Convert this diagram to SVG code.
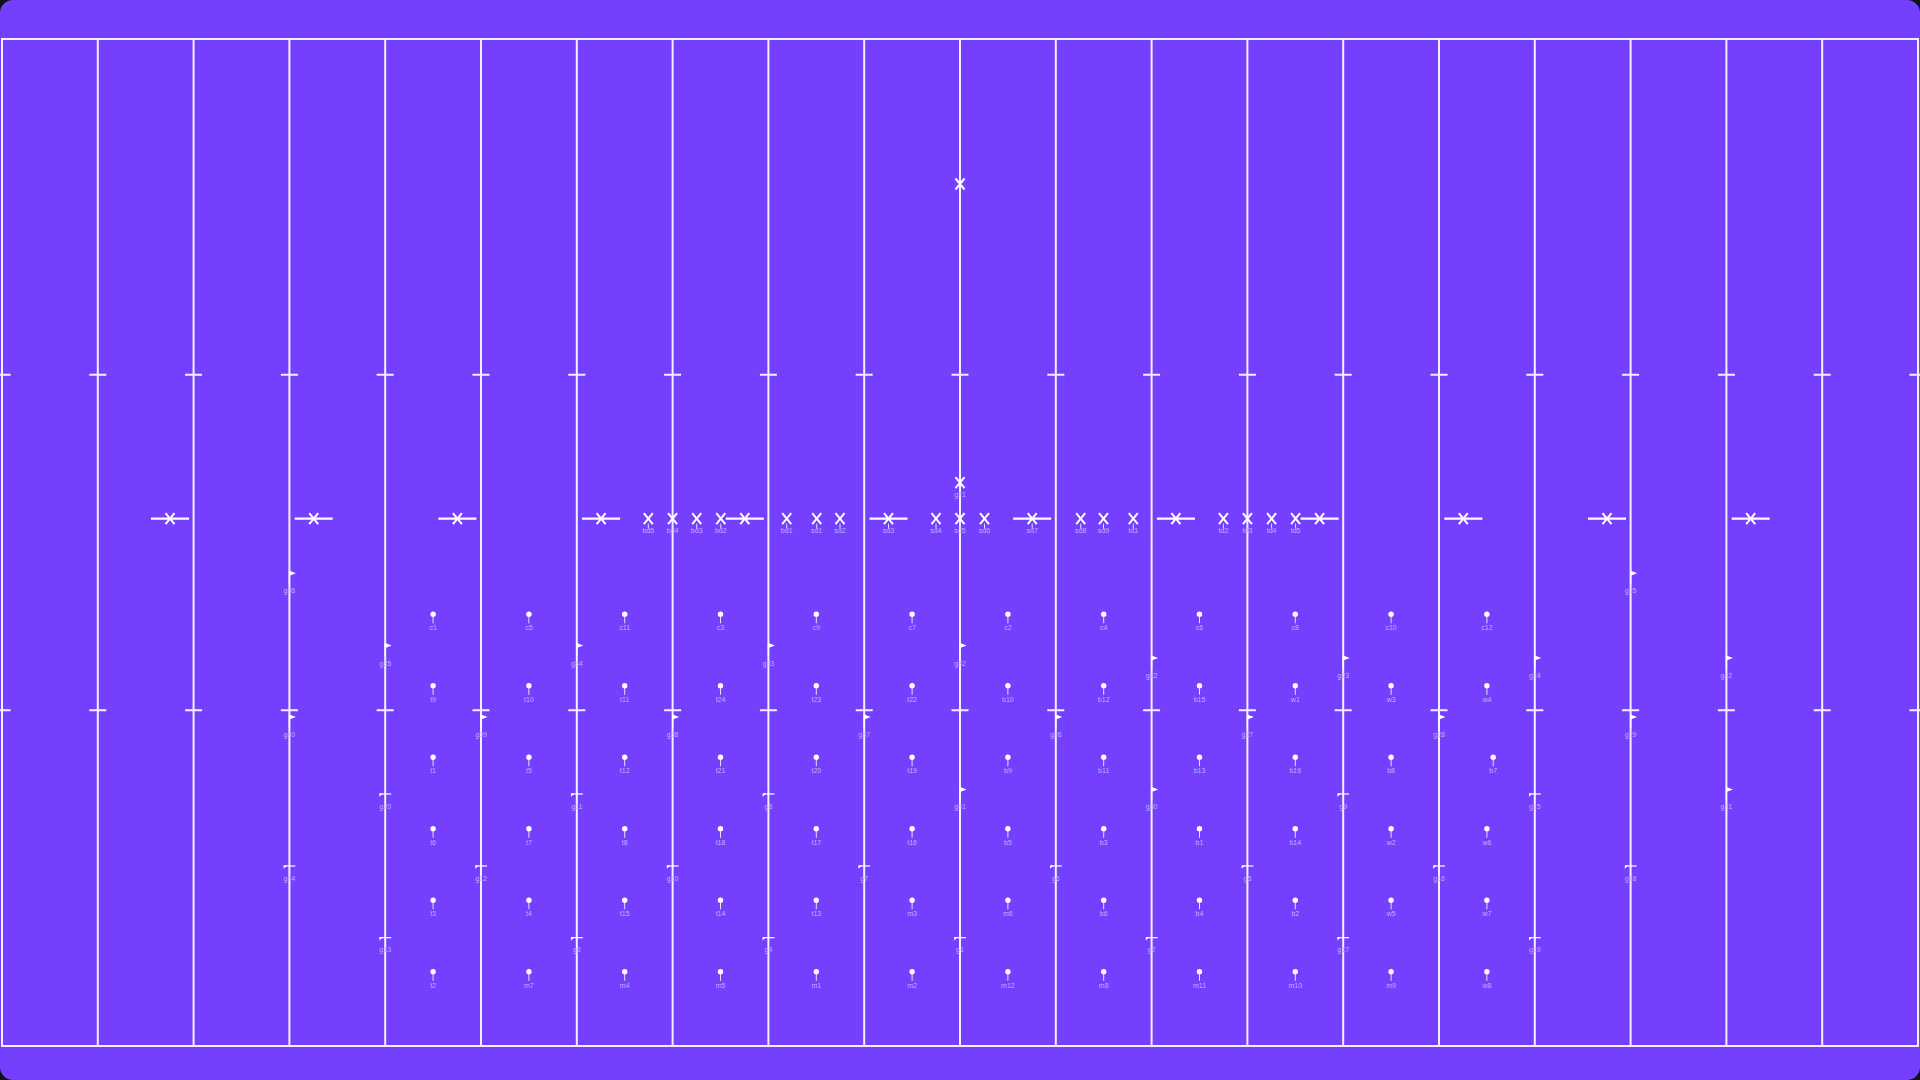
<svg xmlns="http://www.w3.org/2000/svg" width="1920" height="1080" viewBox="0 0 1920 1080">
<style>
.bg{fill:#7440fd}
.fl{stroke:#f4f0ff;stroke-width:2;fill:none}
.tk{stroke:#f4f0ff;stroke-width:2}
.xm{stroke:#ffffff;stroke-width:2;fill:none}
.bar{stroke:#ffffff;stroke-width:2.2}
.ld{stroke:#e6dcff;stroke-width:1}
.pole{stroke:#ffffff;stroke-width:1.2;fill:none}
.pen{fill:#ffffff}
circle{fill:#ffffff}
text{font-family:"Liberation Sans",Arial,sans-serif;font-size:7px;fill:#c4aefe;text-anchor:middle}
</style>
<rect width="1920" height="1080" fill="#121212"/>
<rect class="bg" width="1920" height="1080" rx="13"/>
<g id="field">
<rect class="fl" x="2" y="39" width="1916" height="1007"/>
<path class="fl" d="M97.8 39V1046M193.6 39V1046M289.4 39V1046M385.2 39V1046M481 39V1046M576.8 39V1046M672.6 39V1046M768.4 39V1046M864.2 39V1046M960 39V1046M1055.8 39V1046M1151.6 39V1046M1247.4 39V1046M1343.2 39V1046M1439 39V1046M1534.8 39V1046M1630.6 39V1046M1726.4 39V1046M1822.2 39V1046"/>
<path class="tk" d="M-6.5 374.7H10.5M89.3 374.7H106.3M185.1 374.7H202.1M280.9 374.7H297.9M376.7 374.7H393.7M472.5 374.7H489.5M568.3 374.7H585.3M664.1 374.7H681.1M759.9 374.7H776.9M855.7 374.7H872.7M951.5 374.7H968.5M1047.3 374.7H1064.3M1143.1 374.7H1160.1M1238.9 374.7H1255.9M1334.7 374.7H1351.7M1430.5 374.7H1447.5M1526.3 374.7H1543.3M1622.1 374.7H1639.1M1717.9 374.7H1734.9M1813.7 374.7H1830.7M1909.5 374.7H1926.5"/>
<path class="tk" d="M-6.5 710.3H10.5M89.3 710.3H106.3M185.1 710.3H202.1M280.9 710.3H297.9M376.7 710.3H393.7M472.5 710.3H489.5M568.3 710.3H585.3M664.1 710.3H681.1M759.9 710.3H776.9M855.7 710.3H872.7M951.5 710.3H968.5M1047.3 710.3H1064.3M1143.1 710.3H1160.1M1238.9 710.3H1255.9M1334.7 710.3H1351.7M1430.5 710.3H1447.5M1526.3 710.3H1543.3M1622.1 710.3H1639.1M1717.9 710.3H1734.9M1813.7 710.3H1830.7M1909.5 710.3H1926.5"/>
</g>
<g id="connectors"></g>
<!-- big crosses with bars -->
<g id="cross-1" transform="translate(170,518.7)"><path class="bar" d="M-19 0H19"/><path class="xm" d="M-4.5-5.5L4.5 5.5M4.5-5.5L-4.5 5.5"/></g>
<g id="cross-2" transform="translate(313.7,518.7)"><path class="bar" d="M-19 0H19"/><path class="xm" d="M-4.5-5.5L4.5 5.5M4.5-5.5L-4.5 5.5"/></g>
<g id="cross-3" transform="translate(457.4,518.7)"><path class="bar" d="M-19 0H19"/><path class="xm" d="M-4.5-5.5L4.5 5.5M4.5-5.5L-4.5 5.5"/></g>
<g id="cross-4" transform="translate(601.1,518.7)"><path class="bar" d="M-19 0H19"/><path class="xm" d="M-4.5-5.5L4.5 5.5M4.5-5.5L-4.5 5.5"/></g>
<g id="cross-5" transform="translate(744.8,518.7)"><path class="bar" d="M-19 0H19"/><path class="xm" d="M-4.5-5.5L4.5 5.5M4.5-5.5L-4.5 5.5"/></g>
<g id="sd3" transform="translate(888.5,518.7)"><path class="bar" d="M-19 0H19"/><path class="xm" d="M-4.5-5.5L4.5 5.5M4.5-5.5L-4.5 5.5"/><path class="ld" d="M0 5v5"/><text y="14.5">sd3</text></g>
<g id="sd7" transform="translate(1032.2,518.7)"><path class="bar" d="M-19 0H19"/><path class="xm" d="M-4.5-5.5L4.5 5.5M4.5-5.5L-4.5 5.5"/><path class="ld" d="M0 5v5"/><text y="14.5">sd7</text></g>
<g id="cross-6" transform="translate(1175.9,518.7)"><path class="bar" d="M-19 0H19"/><path class="xm" d="M-4.5-5.5L4.5 5.5M4.5-5.5L-4.5 5.5"/></g>
<g id="cross-7" transform="translate(1319.6,518.7)"><path class="bar" d="M-19 0H19"/><path class="xm" d="M-4.5-5.5L4.5 5.5M4.5-5.5L-4.5 5.5"/></g>
<g id="cross-8" transform="translate(1463.3,518.7)"><path class="bar" d="M-19 0H19"/><path class="xm" d="M-4.5-5.5L4.5 5.5M4.5-5.5L-4.5 5.5"/></g>
<g id="cross-9" transform="translate(1607,518.7)"><path class="bar" d="M-19 0H19"/><path class="xm" d="M-4.5-5.5L4.5 5.5M4.5-5.5L-4.5 5.5"/></g>
<g id="cross-10" transform="translate(1750.7,518.7)"><path class="bar" d="M-19 0H19"/><path class="xm" d="M-4.5-5.5L4.5 5.5M4.5-5.5L-4.5 5.5"/></g>
<!-- small crosses -->
<g id="cross-top" transform="translate(960,184)"><path class="xm" d="M-4.5-5.5L4.5 5.5M4.5-5.5L-4.5 5.5"/></g>
<g id="g21" transform="translate(960,482.7)"><path class="xm" d="M-4.5-5.5L4.5 5.5M4.5-5.5L-4.5 5.5"/><text y="14.5">g21</text></g>
<g id="bd5" transform="translate(648.3,518.7)"><path class="xm" d="M-4.5-5.5L4.5 5.5M4.5-5.5L-4.5 5.5"/><path class="ld" d="M0 5v5"/><text y="14.5">bd5</text></g>
<g id="bd4" transform="translate(672.6,518.7)"><path class="xm" d="M-4.5-5.5L4.5 5.5M4.5-5.5L-4.5 5.5"/><path class="ld" d="M0 5v5"/><text y="14.5">bd4</text></g>
<g id="bd3" transform="translate(696.7,518.7)"><path class="xm" d="M-4.5-5.5L4.5 5.5M4.5-5.5L-4.5 5.5"/><path class="ld" d="M0 5v5"/><text y="14.5">bd3</text></g>
<g id="bd2" transform="translate(720.8,518.7)"><path class="xm" d="M-4.5-5.5L4.5 5.5M4.5-5.5L-4.5 5.5"/><path class="ld" d="M0 5v5"/><text y="14.5">bd2</text></g>
<g id="bd1" transform="translate(786.7,518.7)"><path class="xm" d="M-4.5-5.5L4.5 5.5M4.5-5.5L-4.5 5.5"/><path class="ld" d="M0 5v5"/><text y="14.5">bd1</text></g>
<g id="sd1" transform="translate(816.7,518.7)"><path class="xm" d="M-4.5-5.5L4.5 5.5M4.5-5.5L-4.5 5.5"/><path class="ld" d="M0 5v5"/><text y="14.5">sd1</text></g>
<g id="sd2" transform="translate(840,518.7)"><path class="xm" d="M-4.5-5.5L4.5 5.5M4.5-5.5L-4.5 5.5"/><path class="ld" d="M0 5v5"/><text y="14.5">sd2</text></g>
<g id="sd4" transform="translate(936,518.7)"><path class="xm" d="M-4.5-5.5L4.5 5.5M4.5-5.5L-4.5 5.5"/><path class="ld" d="M0 5v5"/><text y="14.5">sd4</text></g>
<g id="sd5" transform="translate(960,518.7)"><path class="xm" d="M-4.5-5.5L4.5 5.5M4.5-5.5L-4.5 5.5"/><path class="ld" d="M0 5v5"/><text y="14.5">sd5</text></g>
<g id="sd6" transform="translate(984.5,518.7)"><path class="xm" d="M-4.5-5.5L4.5 5.5M4.5-5.5L-4.5 5.5"/><path class="ld" d="M0 5v5"/><text y="14.5">sd6</text></g>
<g id="sd8" transform="translate(1080.7,518.7)"><path class="xm" d="M-4.5-5.5L4.5 5.5M4.5-5.5L-4.5 5.5"/><path class="ld" d="M0 5v5"/><text y="14.5">sd8</text></g>
<g id="sd9" transform="translate(1103.5,518.7)"><path class="xm" d="M-4.5-5.5L4.5 5.5M4.5-5.5L-4.5 5.5"/><path class="ld" d="M0 5v5"/><text y="14.5">sd9</text></g>
<g id="td1" transform="translate(1133.3,518.7)"><path class="xm" d="M-4.5-5.5L4.5 5.5M4.5-5.5L-4.5 5.5"/><path class="ld" d="M0 5v5"/><text y="14.5">td1</text></g>
<g id="td2" transform="translate(1223.4,518.7)"><path class="xm" d="M-4.5-5.5L4.5 5.5M4.5-5.5L-4.5 5.5"/><path class="ld" d="M0 5v5"/><text y="14.5">td2</text></g>
<g id="td3" transform="translate(1247.4,518.7)"><path class="xm" d="M-4.5-5.5L4.5 5.5M4.5-5.5L-4.5 5.5"/><path class="ld" d="M0 5v5"/><text y="14.5">td3</text></g>
<g id="td4" transform="translate(1271.6,518.7)"><path class="xm" d="M-4.5-5.5L4.5 5.5M4.5-5.5L-4.5 5.5"/><path class="ld" d="M0 5v5"/><text y="14.5">td4</text></g>
<g id="td5" transform="translate(1295.6,518.7)"><path class="xm" d="M-4.5-5.5L4.5 5.5M4.5-5.5L-4.5 5.5"/><path class="ld" d="M0 5v5"/><text y="14.5">td5</text></g>
<!-- upright flags -->
<g id="g36" transform="translate(289.4,570.7)"><path class="pole" d="M0 0v13"/><path class="pen" d="M0 0L6.5 2.6L0 5Z"/><text y="22.5">g36</text></g>
<g id="g25" transform="translate(1630.6,570.7)"><path class="pole" d="M0 0v13"/><path class="pen" d="M0 0L6.5 2.6L0 5Z"/><text y="22.5">g25</text></g>
<g id="g35" transform="translate(385.2,643)"><path class="pole" d="M0 0v13"/><path class="pen" d="M0 0L6.5 2.6L0 5Z"/><text y="22.5">g35</text></g>
<g id="g34" transform="translate(576.8,643)"><path class="pole" d="M0 0v13"/><path class="pen" d="M0 0L6.5 2.6L0 5Z"/><text y="22.5">g34</text></g>
<g id="g33" transform="translate(768.4,643)"><path class="pole" d="M0 0v13"/><path class="pen" d="M0 0L6.5 2.6L0 5Z"/><text y="22.5">g33</text></g>
<g id="g32" transform="translate(960,643)"><path class="pole" d="M0 0v13"/><path class="pen" d="M0 0L6.5 2.6L0 5Z"/><text y="22.5">g32</text></g>
<g id="g22" transform="translate(1151.6,655.5)"><path class="pole" d="M0 0v13"/><path class="pen" d="M0 0L6.5 2.6L0 5Z"/><text y="22.5">g22</text></g>
<g id="g23" transform="translate(1343.2,655.5)"><path class="pole" d="M0 0v13"/><path class="pen" d="M0 0L6.5 2.6L0 5Z"/><text y="22.5">g23</text></g>
<g id="g24" transform="translate(1534.8,655.5)"><path class="pole" d="M0 0v13"/><path class="pen" d="M0 0L6.5 2.6L0 5Z"/><text y="22.5">g24</text></g>
<g id="g42" transform="translate(1726.4,655.5)"><path class="pole" d="M0 0v13"/><path class="pen" d="M0 0L6.5 2.6L0 5Z"/><text y="22.5">g42</text></g>
<g id="g40" transform="translate(289.4,714.5)"><path class="pole" d="M0 0v13"/><path class="pen" d="M0 0L6.5 2.6L0 5Z"/><text y="22.5">g40</text></g>
<g id="g39" transform="translate(481,714.5)"><path class="pole" d="M0 0v13"/><path class="pen" d="M0 0L6.5 2.6L0 5Z"/><text y="22.5">g39</text></g>
<g id="g38" transform="translate(672.6,714.5)"><path class="pole" d="M0 0v13"/><path class="pen" d="M0 0L6.5 2.6L0 5Z"/><text y="22.5">g38</text></g>
<g id="g37" transform="translate(864.2,714.5)"><path class="pole" d="M0 0v13"/><path class="pen" d="M0 0L6.5 2.6L0 5Z"/><text y="22.5">g37</text></g>
<g id="g26" transform="translate(1055.8,714.5)"><path class="pole" d="M0 0v13"/><path class="pen" d="M0 0L6.5 2.6L0 5Z"/><text y="22.5">g26</text></g>
<g id="g27" transform="translate(1247.4,714.5)"><path class="pole" d="M0 0v13"/><path class="pen" d="M0 0L6.5 2.6L0 5Z"/><text y="22.5">g27</text></g>
<g id="g28" transform="translate(1439,714.5)"><path class="pole" d="M0 0v13"/><path class="pen" d="M0 0L6.5 2.6L0 5Z"/><text y="22.5">g28</text></g>
<g id="g29" transform="translate(1630.6,714.5)"><path class="pole" d="M0 0v13"/><path class="pen" d="M0 0L6.5 2.6L0 5Z"/><text y="22.5">g29</text></g>
<g id="g31" transform="translate(960,787)"><path class="pole" d="M0 0v13"/><path class="pen" d="M0 0L6.5 2.6L0 5Z"/><text y="22">g31</text></g>
<g id="g30" transform="translate(1151.6,787)"><path class="pole" d="M0 0v13"/><path class="pen" d="M0 0L6.5 2.6L0 5Z"/><text y="22">g30</text></g>
<g id="g41" transform="translate(1726.4,787)"><path class="pole" d="M0 0v13"/><path class="pen" d="M0 0L6.5 2.6L0 5Z"/><text y="22">g41</text></g>
<!-- fallen flags -->
<g id="g20" transform="translate(385.2,794)"><path class="pole" d="M-5.5 0H6"/><path class="pen" d="M-5.8-0.6H-2.2L-5.8 2.8Z"/><text y="14.5">g20</text></g>
<g id="g11" transform="translate(576.8,794)"><path class="pole" d="M-5.5 0H6"/><path class="pen" d="M-5.8-0.6H-2.2L-5.8 2.8Z"/><text y="14.5">g11</text></g>
<g id="g8" transform="translate(768.4,794)"><path class="pole" d="M-5.5 0H6"/><path class="pen" d="M-5.8-0.6H-2.2L-5.8 2.8Z"/><text y="14.5">g8</text></g>
<g id="g9" transform="translate(1343.2,794)"><path class="pole" d="M-5.5 0H6"/><path class="pen" d="M-5.8-0.6H-2.2L-5.8 2.8Z"/><text y="14.5">g9</text></g>
<g id="g15" transform="translate(1534.8,794)"><path class="pole" d="M-5.5 0H6"/><path class="pen" d="M-5.8-0.6H-2.2L-5.8 2.8Z"/><text y="14.5">g15</text></g>
<g id="g14" transform="translate(289.4,866)"><path class="pole" d="M-5.5 0H6"/><path class="pen" d="M-5.8-0.6H-2.2L-5.8 2.8Z"/><text y="14.5">g14</text></g>
<g id="g12" transform="translate(481,866)"><path class="pole" d="M-5.5 0H6"/><path class="pen" d="M-5.8-0.6H-2.2L-5.8 2.8Z"/><text y="14.5">g12</text></g>
<g id="g10" transform="translate(672.6,866)"><path class="pole" d="M-5.5 0H6"/><path class="pen" d="M-5.8-0.6H-2.2L-5.8 2.8Z"/><text y="14.5">g10</text></g>
<g id="g7" transform="translate(864.2,866)"><path class="pole" d="M-5.5 0H6"/><path class="pen" d="M-5.8-0.6H-2.2L-5.8 2.8Z"/><text y="14.5">g7</text></g>
<g id="g6" transform="translate(1055.8,866)"><path class="pole" d="M-5.5 0H6"/><path class="pen" d="M-5.8-0.6H-2.2L-5.8 2.8Z"/><text y="14.5">g6</text></g>
<g id="g5" transform="translate(1247.4,866)"><path class="pole" d="M-5.5 0H6"/><path class="pen" d="M-5.8-0.6H-2.2L-5.8 2.8Z"/><text y="14.5">g5</text></g>
<g id="g16" transform="translate(1439,866)"><path class="pole" d="M-5.5 0H6"/><path class="pen" d="M-5.8-0.6H-2.2L-5.8 2.8Z"/><text y="14.5">g16</text></g>
<g id="g18" transform="translate(1630.6,866)"><path class="pole" d="M-5.5 0H6"/><path class="pen" d="M-5.8-0.6H-2.2L-5.8 2.8Z"/><text y="14.5">g18</text></g>
<g id="g13" transform="translate(385.2,937.7)"><path class="pole" d="M-5.5 0H6"/><path class="pen" d="M-5.8-0.6H-2.2L-5.8 2.8Z"/><text y="14.5">g13</text></g>
<g id="g3" transform="translate(576.8,937.7)"><path class="pole" d="M-5.5 0H6"/><path class="pen" d="M-5.8-0.6H-2.2L-5.8 2.8Z"/><text y="14.5">g3</text></g>
<g id="g4" transform="translate(768.4,937.7)"><path class="pole" d="M-5.5 0H6"/><path class="pen" d="M-5.8-0.6H-2.2L-5.8 2.8Z"/><text y="14.5">g4</text></g>
<g id="g1" transform="translate(960,937.7)"><path class="pole" d="M-5.5 0H6"/><path class="pen" d="M-5.8-0.6H-2.2L-5.8 2.8Z"/><text y="14.5">g1</text></g>
<g id="g2" transform="translate(1151.6,937.7)"><path class="pole" d="M-5.5 0H6"/><path class="pen" d="M-5.8-0.6H-2.2L-5.8 2.8Z"/><text y="14.5">g2</text></g>
<g id="g17" transform="translate(1343.2,937.7)"><path class="pole" d="M-5.5 0H6"/><path class="pen" d="M-5.8-0.6H-2.2L-5.8 2.8Z"/><text y="14.5">g17</text></g>
<g id="g19" transform="translate(1534.8,937.7)"><path class="pole" d="M-5.5 0H6"/><path class="pen" d="M-5.8-0.6H-2.2L-5.8 2.8Z"/><text y="14.5">g19</text></g>
<!-- dots row 1 -->
<g id="c1" transform="translate(433.1,614.3)"><circle r="2.7"/><path class="ld" d="M0 2v7"/><text y="16">c1</text></g>
<g id="c5" transform="translate(528.9,614.3)"><circle r="2.7"/><path class="ld" d="M0 2v7"/><text y="16">c5</text></g>
<g id="c11" transform="translate(624.7,614.3)"><circle r="2.7"/><path class="ld" d="M0 2v7"/><text y="16">c11</text></g>
<g id="c3" transform="translate(720.5,614.3)"><circle r="2.7"/><path class="ld" d="M0 2v7"/><text y="16">c3</text></g>
<g id="c9" transform="translate(816.3,614.3)"><circle r="2.7"/><path class="ld" d="M0 2v7"/><text y="16">c9</text></g>
<g id="c7" transform="translate(912.1,614.3)"><circle r="2.7"/><path class="ld" d="M0 2v7"/><text y="16">c7</text></g>
<g id="c2" transform="translate(1007.9,614.3)"><circle r="2.7"/><path class="ld" d="M0 2v7"/><text y="16">c2</text></g>
<g id="c4" transform="translate(1103.7,614.3)"><circle r="2.7"/><path class="ld" d="M0 2v7"/><text y="16">c4</text></g>
<g id="c6" transform="translate(1199.5,614.3)"><circle r="2.7"/><path class="ld" d="M0 2v7"/><text y="16">c6</text></g>
<g id="c8" transform="translate(1295.3,614.3)"><circle r="2.7"/><path class="ld" d="M0 2v7"/><text y="16">c8</text></g>
<g id="c10" transform="translate(1391.1,614.3)"><circle r="2.7"/><path class="ld" d="M0 2v7"/><text y="16">c10</text></g>
<g id="c12" transform="translate(1486.9,614.3)"><circle r="2.7"/><path class="ld" d="M0 2v7"/><text y="16">c12</text></g>
<!-- dots row 2 -->
<g id="t9" transform="translate(433.1,685.8)"><circle r="2.7"/><path class="ld" d="M0 2v7"/><text y="16">t9</text></g>
<g id="t10" transform="translate(528.9,685.8)"><circle r="2.7"/><path class="ld" d="M0 2v7"/><text y="16">t10</text></g>
<g id="t11" transform="translate(624.7,685.8)"><circle r="2.7"/><path class="ld" d="M0 2v7"/><text y="16">t11</text></g>
<g id="t24" transform="translate(720.5,685.8)"><circle r="2.7"/><path class="ld" d="M0 2v7"/><text y="16">t24</text></g>
<g id="t23" transform="translate(816.3,685.8)"><circle r="2.7"/><path class="ld" d="M0 2v7"/><text y="16">t23</text></g>
<g id="t22" transform="translate(912.1,685.8)"><circle r="2.7"/><path class="ld" d="M0 2v7"/><text y="16">t22</text></g>
<g id="b10" transform="translate(1007.9,685.8)"><circle r="2.7"/><path class="ld" d="M0 2v7"/><text y="16">b10</text></g>
<g id="b12" transform="translate(1103.7,685.8)"><circle r="2.7"/><path class="ld" d="M0 2v7"/><text y="16">b12</text></g>
<g id="b15" transform="translate(1199.5,685.8)"><circle r="2.7"/><path class="ld" d="M0 2v7"/><text y="16">b15</text></g>
<g id="w1" transform="translate(1295.3,685.8)"><circle r="2.7"/><path class="ld" d="M0 2v7"/><text y="16">w1</text></g>
<g id="w3" transform="translate(1391.1,685.8)"><circle r="2.7"/><path class="ld" d="M0 2v7"/><text y="16">w3</text></g>
<g id="w4" transform="translate(1486.9,685.8)"><circle r="2.7"/><path class="ld" d="M0 2v7"/><text y="16">w4</text></g>
<!-- dots row 3 -->
<g id="t1" transform="translate(433.1,757.3)"><circle r="2.7"/><path class="ld" d="M0 2v7"/><text y="16">t1</text></g>
<g id="t5" transform="translate(528.9,757.3)"><circle r="2.7"/><path class="ld" d="M0 2v7"/><text y="16">t5</text></g>
<g id="t12" transform="translate(624.7,757.3)"><circle r="2.7"/><path class="ld" d="M0 2v7"/><text y="16">t12</text></g>
<g id="t21" transform="translate(720.5,757.3)"><circle r="2.7"/><path class="ld" d="M0 2v7"/><text y="16">t21</text></g>
<g id="t20" transform="translate(816.3,757.3)"><circle r="2.7"/><path class="ld" d="M0 2v7"/><text y="16">t20</text></g>
<g id="t19" transform="translate(912.1,757.3)"><circle r="2.7"/><path class="ld" d="M0 2v7"/><text y="16">t19</text></g>
<g id="b9" transform="translate(1007.9,757.3)"><circle r="2.7"/><path class="ld" d="M0 2v7"/><text y="16">b9</text></g>
<g id="b11" transform="translate(1103.7,757.3)"><circle r="2.7"/><path class="ld" d="M0 2v7"/><text y="16">b11</text></g>
<g id="b13" transform="translate(1199.5,757.3)"><circle r="2.7"/><path class="ld" d="M0 2v7"/><text y="16">b13</text></g>
<g id="b16" transform="translate(1295.3,757.3)"><circle r="2.7"/><path class="ld" d="M0 2v7"/><text y="16">b16</text></g>
<g id="b8" transform="translate(1391.1,757.3)"><circle r="2.7"/><path class="ld" d="M0 2v7"/><text y="16">b8</text></g>
<g id="b7" transform="translate(1493.2,757.3)"><circle r="2.7"/><path class="ld" d="M0 2v7"/><text y="16">b7</text></g>
<!-- dots row 4 -->
<g id="t6" transform="translate(433.1,828.8)"><circle r="2.7"/><path class="ld" d="M0 2v7"/><text y="16">t6</text></g>
<g id="t7" transform="translate(528.9,828.8)"><circle r="2.7"/><path class="ld" d="M0 2v7"/><text y="16">t7</text></g>
<g id="t8" transform="translate(624.7,828.8)"><circle r="2.7"/><path class="ld" d="M0 2v7"/><text y="16">t8</text></g>
<g id="t18" transform="translate(720.5,828.8)"><circle r="2.7"/><path class="ld" d="M0 2v7"/><text y="16">t18</text></g>
<g id="t17" transform="translate(816.3,828.8)"><circle r="2.7"/><path class="ld" d="M0 2v7"/><text y="16">t17</text></g>
<g id="t16" transform="translate(912.1,828.8)"><circle r="2.7"/><path class="ld" d="M0 2v7"/><text y="16">t16</text></g>
<g id="b5" transform="translate(1007.9,828.8)"><circle r="2.7"/><path class="ld" d="M0 2v7"/><text y="16">b5</text></g>
<g id="b3" transform="translate(1103.7,828.8)"><circle r="2.7"/><path class="ld" d="M0 2v7"/><text y="16">b3</text></g>
<g id="b1" transform="translate(1199.5,828.8)"><circle r="2.7"/><path class="ld" d="M0 2v7"/><text y="16">b1</text></g>
<g id="b14" transform="translate(1295.3,828.8)"><circle r="2.7"/><path class="ld" d="M0 2v7"/><text y="16">b14</text></g>
<g id="w2" transform="translate(1391.1,828.8)"><circle r="2.7"/><path class="ld" d="M0 2v7"/><text y="16">w2</text></g>
<g id="w6" transform="translate(1486.9,828.8)"><circle r="2.7"/><path class="ld" d="M0 2v7"/><text y="16">w6</text></g>
<!-- dots row 5 -->
<g id="t3" transform="translate(433.1,900.3)"><circle r="2.7"/><path class="ld" d="M0 2v7"/><text y="16">t3</text></g>
<g id="t4" transform="translate(528.9,900.3)"><circle r="2.7"/><path class="ld" d="M0 2v7"/><text y="16">t4</text></g>
<g id="t15" transform="translate(624.7,900.3)"><circle r="2.7"/><path class="ld" d="M0 2v7"/><text y="16">t15</text></g>
<g id="t14" transform="translate(720.5,900.3)"><circle r="2.7"/><path class="ld" d="M0 2v7"/><text y="16">t14</text></g>
<g id="t13" transform="translate(816.3,900.3)"><circle r="2.7"/><path class="ld" d="M0 2v7"/><text y="16">t13</text></g>
<g id="m3" transform="translate(912.1,900.3)"><circle r="2.7"/><path class="ld" d="M0 2v7"/><text y="16">m3</text></g>
<g id="m6" transform="translate(1007.9,900.3)"><circle r="2.7"/><path class="ld" d="M0 2v7"/><text y="16">m6</text></g>
<g id="b6" transform="translate(1103.7,900.3)"><circle r="2.7"/><path class="ld" d="M0 2v7"/><text y="16">b6</text></g>
<g id="b4" transform="translate(1199.5,900.3)"><circle r="2.7"/><path class="ld" d="M0 2v7"/><text y="16">b4</text></g>
<g id="b2" transform="translate(1295.3,900.3)"><circle r="2.7"/><path class="ld" d="M0 2v7"/><text y="16">b2</text></g>
<g id="w5" transform="translate(1391.1,900.3)"><circle r="2.7"/><path class="ld" d="M0 2v7"/><text y="16">w5</text></g>
<g id="w7" transform="translate(1486.9,900.3)"><circle r="2.7"/><path class="ld" d="M0 2v7"/><text y="16">w7</text></g>
<!-- dots row 6 -->
<g id="t2" transform="translate(433.1,971.8)"><circle r="2.7"/><path class="ld" d="M0 2v7"/><text y="16">t2</text></g>
<g id="m7" transform="translate(528.9,971.8)"><circle r="2.7"/><path class="ld" d="M0 2v7"/><text y="16">m7</text></g>
<g id="m4" transform="translate(624.7,971.8)"><circle r="2.7"/><path class="ld" d="M0 2v7"/><text y="16">m4</text></g>
<g id="m5" transform="translate(720.5,971.8)"><circle r="2.7"/><path class="ld" d="M0 2v7"/><text y="16">m5</text></g>
<g id="m1" transform="translate(816.3,971.8)"><circle r="2.7"/><path class="ld" d="M0 2v7"/><text y="16">m1</text></g>
<g id="m2" transform="translate(912.1,971.8)"><circle r="2.7"/><path class="ld" d="M0 2v7"/><text y="16">m2</text></g>
<g id="m12" transform="translate(1007.9,971.8)"><circle r="2.7"/><path class="ld" d="M0 2v7"/><text y="16">m12</text></g>
<g id="m8" transform="translate(1103.7,971.8)"><circle r="2.7"/><path class="ld" d="M0 2v7"/><text y="16">m8</text></g>
<g id="m11" transform="translate(1199.5,971.8)"><circle r="2.7"/><path class="ld" d="M0 2v7"/><text y="16">m11</text></g>
<g id="m10" transform="translate(1295.3,971.8)"><circle r="2.7"/><path class="ld" d="M0 2v7"/><text y="16">m10</text></g>
<g id="m9" transform="translate(1391.1,971.8)"><circle r="2.7"/><path class="ld" d="M0 2v7"/><text y="16">m9</text></g>
<g id="w8" transform="translate(1486.9,971.8)"><circle r="2.7"/><path class="ld" d="M0 2v7"/><text y="16">w8</text></g>
</svg>
